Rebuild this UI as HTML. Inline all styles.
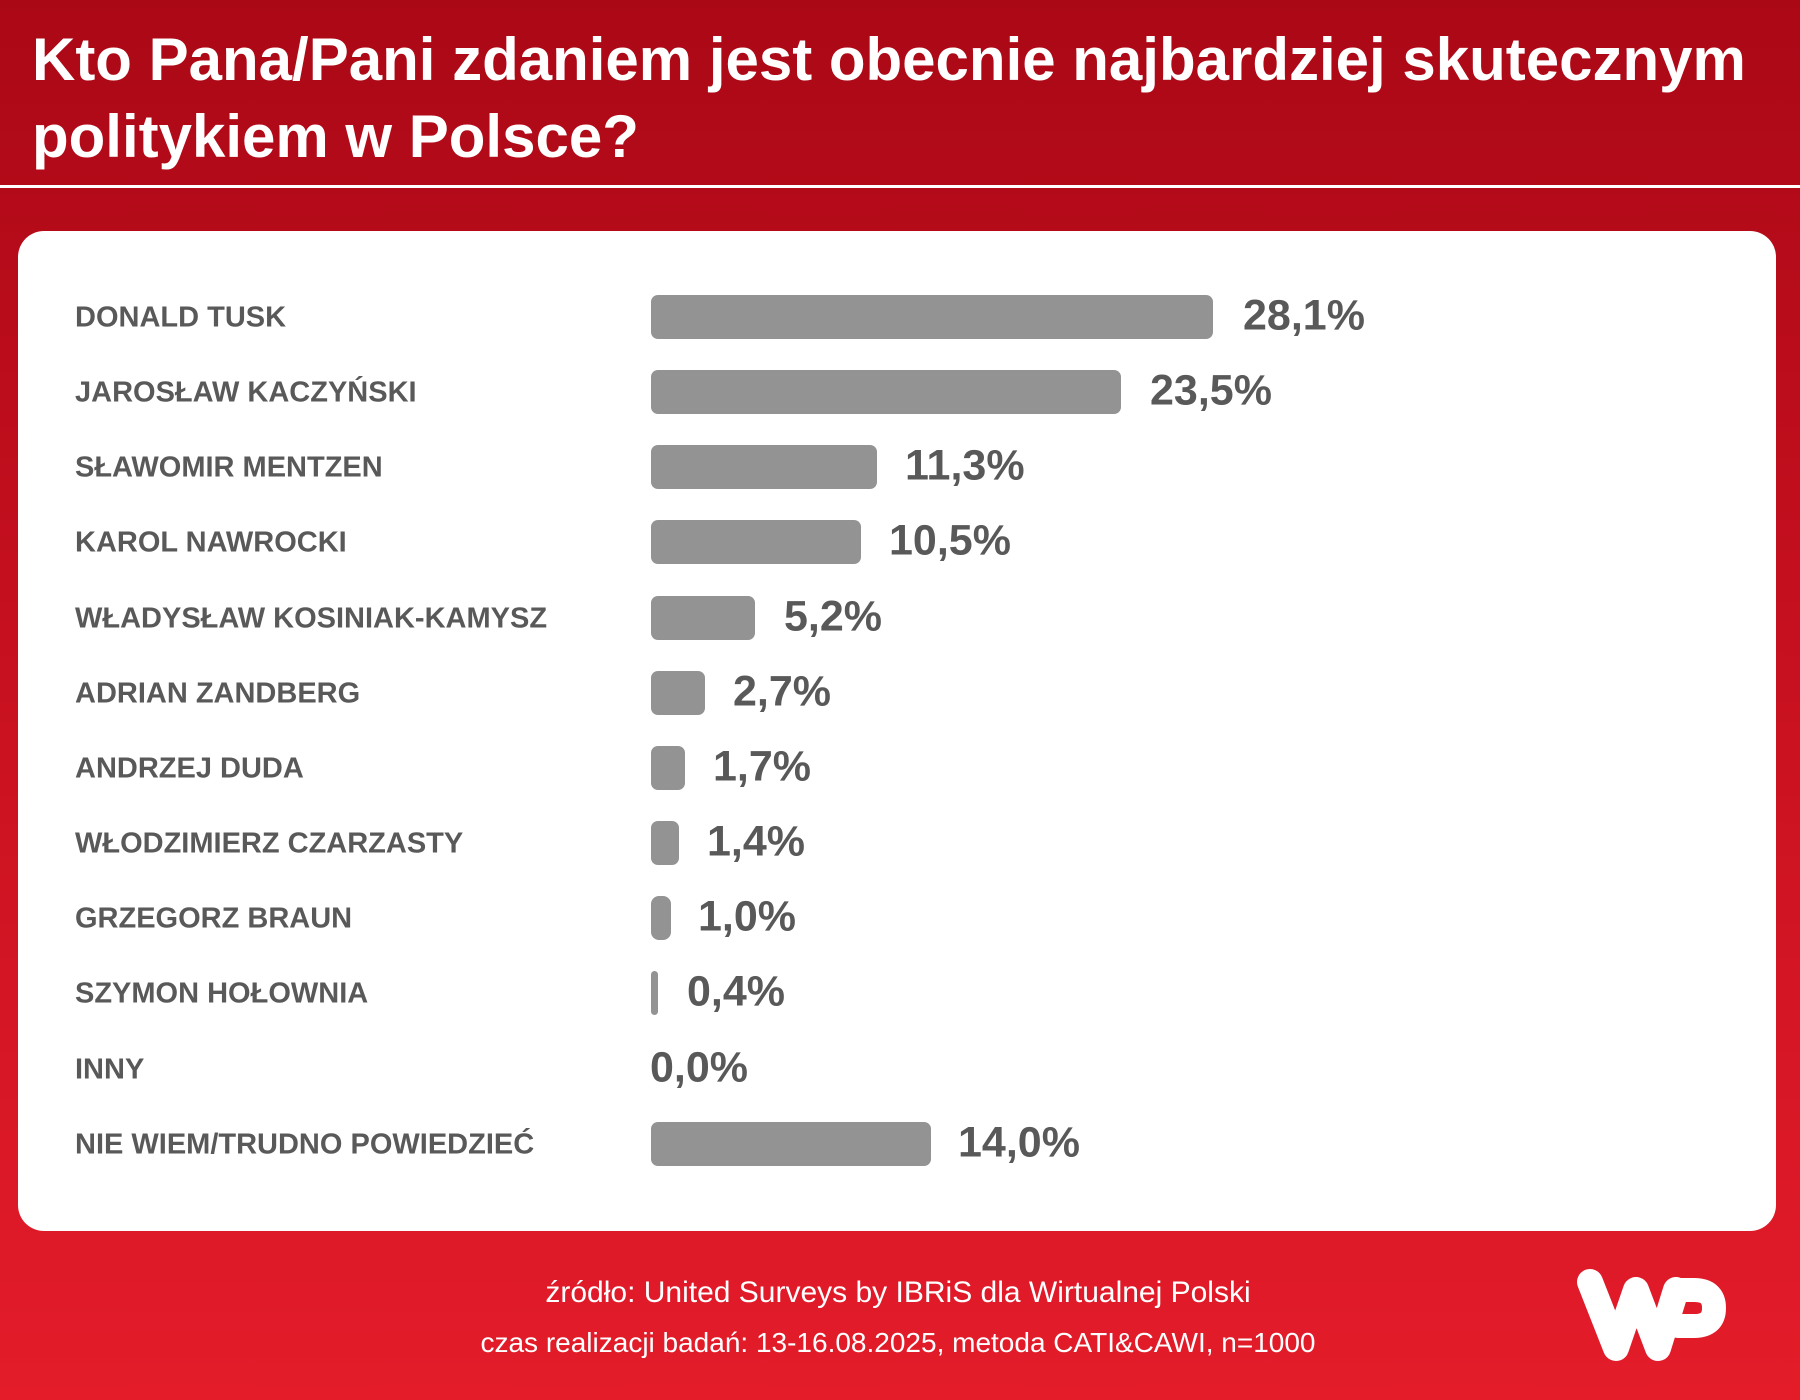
<!DOCTYPE html>
<html><head><meta charset="utf-8"><style>
html,body{margin:0;padding:0}
body{width:1800px;height:1400px;position:relative;overflow:hidden;background:linear-gradient(180deg,#ab0816 0%,#c30f1e 40%,#e41c2a 100%);font-family:"Liberation Sans",sans-serif}
.t{position:absolute;left:32px;color:#fff;font-weight:bold;font-size:60px;letter-spacing:0;white-space:nowrap}
.sep{position:absolute;left:0;top:185px;width:1800px;height:3px;background:#fff}
.card{position:absolute;left:18px;top:231px;width:1758px;height:1000px;background:#fff;border-radius:26px}
.lab{position:absolute;left:75px;color:#595959;font-weight:bold;font-size:29px;transform:translateY(-47%);white-space:nowrap}
.bar{position:absolute;left:651px;height:44px;background:#939393;border-radius:7px;transform:translateY(-50%)}
.val{position:absolute;color:#595959;font-weight:bold;font-size:43px;transform:translateY(-52%);white-space:nowrap}
.f{position:absolute;width:1800px;left:0;text-align:center;color:#fff;white-space:nowrap}
</style></head><body>
<div class="t" style="top:25px">Kto Pana/Pani zdaniem jest obecnie najbardziej skutecznym</div>
<div class="t" style="top:102px">politykiem w Polsce?</div>
<div class="sep"></div>
<div class="card"></div>

<div class="lab" style="top:317px">DONALD TUSK</div><div class="bar" style="top:317px;width:562px"></div><div class="val" style="top:317px;left:1243px">28,1%</div>
<div class="lab" style="top:392px">JAROSŁAW KACZYŃSKI</div><div class="bar" style="top:392px;width:470px"></div><div class="val" style="top:392px;left:1150px">23,5%</div>
<div class="lab" style="top:467px">SŁAWOMIR MENTZEN</div><div class="bar" style="top:467px;width:226px"></div><div class="val" style="top:467px;left:905px">11,3%</div>
<div class="lab" style="top:542px">KAROL NAWROCKI</div><div class="bar" style="top:542px;width:210px"></div><div class="val" style="top:542px;left:889px">10,5%</div>
<div class="lab" style="top:618px">WŁADYSŁAW KOSINIAK-KAMYSZ</div><div class="bar" style="top:618px;width:104px"></div><div class="val" style="top:618px;left:784px">5,2%</div>
<div class="lab" style="top:693px">ADRIAN ZANDBERG</div><div class="bar" style="top:693px;width:54px"></div><div class="val" style="top:693px;left:733px">2,7%</div>
<div class="lab" style="top:768px">ANDRZEJ DUDA</div><div class="bar" style="top:768px;width:34px"></div><div class="val" style="top:768px;left:713px">1,7%</div>
<div class="lab" style="top:843px">WŁODZIMIERZ CZARZASTY</div><div class="bar" style="top:843px;width:28px"></div><div class="val" style="top:843px;left:707px">1,4%</div>
<div class="lab" style="top:918px">GRZEGORZ BRAUN</div><div class="bar" style="top:918px;width:20px;border-radius:8px"></div><div class="val" style="top:918px;left:698px">1,0%</div>
<div class="lab" style="top:993px">SZYMON HOŁOWNIA</div><div class="bar" style="top:993px;width:7px;border-radius:4px"></div><div class="val" style="top:993px;left:687px">0,4%</div>
<div class="lab" style="top:1069px">INNY</div><div class="val" style="top:1069px;left:650px">0,0%</div>
<div class="lab" style="top:1144px">NIE WIEM/TRUDNO POWIEDZIEĆ</div><div class="bar" style="top:1144px;width:280px"></div><div class="val" style="top:1144px;left:958px">14,0%</div>

<div class="f" style="top:1276px;font-size:30px;left:-2px">źródło: United Surveys by IBRiS dla Wirtualnej Polski</div>
<div class="f" style="top:1327px;font-size:28px;left:-2px">czas realizacji badań: 13-16.08.2025, metoda CATI&amp;CAWI, n=1000</div>

<svg style="position:absolute;left:1566px;top:1260px" width="170" height="110" viewBox="0 0 170 110">
<path d="M24 22 L50 88 L70 30 L92 88 L110 30" fill="none" stroke="#fff" stroke-width="26" stroke-linecap="round" stroke-linejoin="round"/>
<path d="M110 30 L128 30 Q148 30 148 48 Q148 66 128 66 L112 66" fill="none" stroke="#fff" stroke-width="24" stroke-linecap="round" stroke-linejoin="round"/>
</svg>
</body></html>
